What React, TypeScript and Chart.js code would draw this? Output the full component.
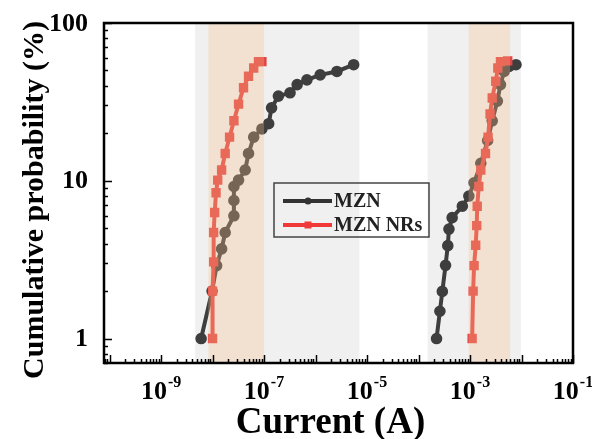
import React, { useEffect, useRef } from "react";
import { Chart, registerables } from "chart.js";

Chart.register(...registerables);

// ---- data (current in A, cumulative probability in %) ----
const mznLowCurrent = [6.0e-9, 9.8e-9, 1.2e-8, 1.5e-8, 1.76e-8, 2.6e-8, 2.6e-8, 2.6e-8, 3.2e-8, 4.3e-8, 5.0e-8, 6.3e-8, 9.1e-8, 1.23e-7, 1.4e-7, 1.9e-7, 3.2e-7, 4.4e-7, 6.8e-7, 1.23e-6, 2.6e-6, 5.5e-6];
const mznLowProb = [1.0, 2.0, 2.9, 3.7, 4.7, 6.0, 7.5, 9.2, 10.1, 11.7, 14.9, 18.9, 21.3, 23, 29, 34.4, 36.1, 40.7, 43.6, 46.9, 49.3, 54.4];

const mznHighCurrent = [2.24e-4, 2.6e-4, 2.9e-4, 3.35e-4, 3.7e-4, 3.9e-4, 4.5e-4, 7.1e-4, 9.5e-4, 1.2e-3, 1.62e-3, 2.2e-3, 2.7e-3, 3.4e-3, 3.9e-3, 4.6e-3, 5.75e-3, 7.8e-3];
const mznHighProb = [1.0, 1.49, 1.99, 2.91, 3.88, 4.94, 5.84, 6.9, 8.0, 9.7, 12.9, 18.0, 24, 32, 40.7, 49.3, 53, 54.4];

const nrsLowCurrent = [1.0e-8, 1.0e-8, 1.05e-8, 1.05e-8, 1.1e-8, 1.17e-8, 1.26e-8, 1.5e-8, 1.76e-8, 2.14e-8, 2.6e-8, 3.2e-8, 4.0e-8, 5.0e-8, 6.3e-8, 7.8e-8, 9.1e-8];
const nrsLowProb = [1.0, 2.0, 3.06, 4.7, 6.3, 8.4, 10.1, 11.7, 14.9, 18.9, 24, 30.6, 38.9, 46, 51.9, 56.9, 56.9];

const nrsHighCurrent = [1.1e-3, 1.15e-3, 1.2e-3, 1.29e-3, 1.35e-3, 1.38e-3, 1.48e-3, 1.62e-3, 2.0e-3, 2.24e-3, 2.45e-3, 2.7e-3, 3.16e-3, 3.47e-3, 3.9e-3, 5.4e-3];
const nrsHighProb = [1.0, 2.0, 2.9, 3.9, 5.2, 6.9, 9.2, 11.7, 14.9, 18.9, 26.5, 33.5, 42.7, 51.9, 56.9, 57.5];

const seriesNames = ["MZN", "MZN NRs"];
const xTickExponents = [-9, -7, -5, -3, -1];
const yTickValues = [1, 10, 100];
const yTickLabels = ["1", "10", "100"];
const grayBands = [[4.6e-9, 7.1e-6], [1.5e-4, 9.7e-3]];
const peachBands = [[8.3e-9, 1.0e-7], [9.4e-4, 6.0e-3]];
const xTitle = "Current (A)";
const yTitle = "Cumulative probability (%)";

const FONT = "'Liberation Serif', 'Times New Roman', serif";
const BLACK = "#333333";
const RED = "#f03a3a";

function pts(xs: number[], ys: number[]) {
  return xs.map((x, i) => ({ x, y: ys[i] }));
}

const overlayPlugin = {
  id: "overlay",
  afterDatasetsDraw(chart: any) {
    const { ctx, chartArea: a, scales } = chart;
    const xs = scales.x;
    const ys = scales.y;
    const w = a.right - a.left;
    const h = a.bottom - a.top;

    // shaded bands (drawn over the data, translucent)
    ctx.save();
    ctx.beginPath();
    ctx.rect(a.left, a.top, w, h);
    ctx.clip();
    ctx.fillStyle = "rgba(140,140,140,0.13)";
    for (const [lo, hi] of grayBands) {
      const x0 = xs.getPixelForValue(lo);
      const x1 = xs.getPixelForValue(hi);
      ctx.fillRect(x0, a.top, x1 - x0, h);
    }
    ctx.fillStyle = "rgba(250,193,140,0.30)";
    for (const [lo, hi] of peachBands) {
      const x0 = xs.getPixelForValue(lo);
      const x1 = xs.getPixelForValue(hi);
      ctx.fillRect(x0, a.top, x1 - x0, h);
    }
    ctx.restore();

    ctx.save();
    // ticks
    ctx.strokeStyle = "#000";
    ctx.lineWidth = 1.5;
    ctx.beginPath();
    for (let e = -11; e <= -1; e++) {
      for (let m = 1; m <= 9; m++) {
        const v = m * Math.pow(10, e);
        if (v < xs.min * 0.999 || v > xs.max * 1.001) continue;
        const px = Math.round(xs.getPixelForValue(v)) + 0.5;
        const len = m === 1 ? 8 : 4;
        ctx.moveTo(px, a.bottom);
        ctx.lineTo(px, a.bottom - len);
      }
    }
    for (let e = -1; e <= 2; e++) {
      for (let m = 1; m <= 9; m++) {
        const v = m * Math.pow(10, e);
        if (v < ys.min * 0.999 || v > ys.max * 1.001) continue;
        const py = Math.round(ys.getPixelForValue(v)) + 0.5;
        const len = m === 1 ? 8 : 4;
        ctx.moveTo(a.left, py);
        ctx.lineTo(a.left + len, py);
      }
    }
    ctx.stroke();

    // frame
    ctx.lineWidth = 2.5;
    ctx.strokeRect(a.left, a.top, w, h);

    // x tick labels
    ctx.fillStyle = "#000";
    ctx.textBaseline = "alphabetic";
    for (const ex of xTickExponents) {
      const px = xs.getPixelForValue(Math.pow(10, ex));
      ctx.font = `bold 26px ${FONT}`;
      const base = "10";
      const bw = ctx.measureText(base).width;
      ctx.font = `bold 16px ${FONT}`;
      const sup = String(ex);
      const sw = ctx.measureText(sup).width;
      const total = bw + sw + 1;
      const x0 = px - total / 2;
      ctx.font = `bold 26px ${FONT}`;
      ctx.textAlign = "left";
      ctx.fillText(base, x0, a.bottom + 36);
      ctx.font = `bold 16px ${FONT}`;
      ctx.fillText(sup, x0 + bw + 1, a.bottom + 24);
    }

    // y tick labels
    ctx.font = `bold 26px ${FONT}`;
    ctx.textAlign = "right";
    ctx.textBaseline = "middle";
    yTickValues.forEach((v, i) => {
      const py = ys.getPixelForValue(v);
      ctx.fillText(yTickLabels[i], a.left - 16, py + 1);
    });

    // axis titles
    ctx.textAlign = "center";
    ctx.textBaseline = "alphabetic";
    ctx.font = `bold 37px ${FONT}`;
    ctx.fillText(xTitle, (a.left + a.right) / 2 - 8, a.bottom + 70);
    ctx.save();
    ctx.translate(43, 200);
    ctx.rotate(-Math.PI / 2);
    ctx.font = `bold 30px ${FONT}`;
    ctx.fillText(yTitle, 0, 0);
    ctx.restore();

    // legend
    const lx = a.left + 170;
    const ly = a.top + 160;
    const lw = 155;
    const lh = 54;
    ctx.strokeStyle = "#444";
    ctx.lineWidth = 1.5;
    ctx.strokeRect(lx, ly, lw, lh);
    const rows = [
      { color: BLACK, shape: "circle" },
      { color: RED, shape: "square" },
    ];
    rows.forEach((r, i) => {
      const yy = ly + 18 + i * 24;
      ctx.strokeStyle = r.color;
      ctx.lineWidth = 4;
      ctx.beginPath();
      ctx.moveTo(lx + 9, yy);
      ctx.lineTo(lx + 58, yy);
      ctx.stroke();
      ctx.fillStyle = r.color;
      if (r.shape === "circle") {
        ctx.beginPath();
        ctx.arc(lx + 34, yy, 3.5, 0, Math.PI * 2);
        ctx.fill();
      } else {
        ctx.fillRect(lx + 30.5, yy - 3.5, 7, 7);
      }
      ctx.fillStyle = "#222";
      ctx.font = `bold 20px ${FONT}`;
      ctx.textAlign = "left";
      ctx.textBaseline = "middle";
      ctx.fillText(seriesNames[i], lx + 60, yy + 1);
    });
    ctx.restore();
  },
};

export default function App() {
  const ref = useRef<HTMLCanvasElement | null>(null);

  useEffect(() => {
    document.body.style.margin = "0";
    const canvas = ref.current;
    if (!canvas) return;
    const common = {
      showLine: true,
      borderWidth: 4,
      pointRadius: 3.8,
      pointHoverRadius: 3.8,
    };
    const chart = new Chart(canvas, {
      type: "scatter",
      data: {
        datasets: [
          {
            ...common,
            label: seriesNames[0],
            data: pts(mznLowCurrent, mznLowProb),
            borderColor: BLACK,
            backgroundColor: BLACK,
            pointStyle: "circle",
            order: 2,
          },
          {
            ...common,
            label: seriesNames[0] + " (high)",
            data: pts(mznHighCurrent, mznHighProb),
            borderColor: BLACK,
            backgroundColor: BLACK,
            pointStyle: "circle",
            order: 2,
          },
          {
            ...common,
            label: seriesNames[1],
            data: pts(nrsLowCurrent, nrsLowProb),
            borderColor: RED,
            backgroundColor: RED,
            pointStyle: "rect",
            order: 1,
          },
          {
            ...common,
            label: seriesNames[1] + " (high)",
            data: pts(nrsHighCurrent, nrsHighProb),
            borderColor: RED,
            backgroundColor: RED,
            pointStyle: "rect",
            order: 1,
          },
        ],
      },
      options: {
        animation: false,
        responsive: false,
        devicePixelRatio: 1,
        layout: { padding: { left: 104, right: 19, top: 23, bottom: 76 } },
        plugins: { legend: { display: false }, tooltip: { enabled: false } },
        scales: {
          x: { type: "logarithmic", min: 7.8e-11, max: 0.1, display: false },
          y: { type: "logarithmic", min: 0.727, max: 100, display: false },
        },
      },
      plugins: [overlayPlugin],
    });
    return () => chart.destroy();
  }, []);

  return (
    <div style={{ width: 592, height: 439, background: "#fff" }}>
      <canvas ref={ref} width={592} height={439} />
    </div>
  );
}
